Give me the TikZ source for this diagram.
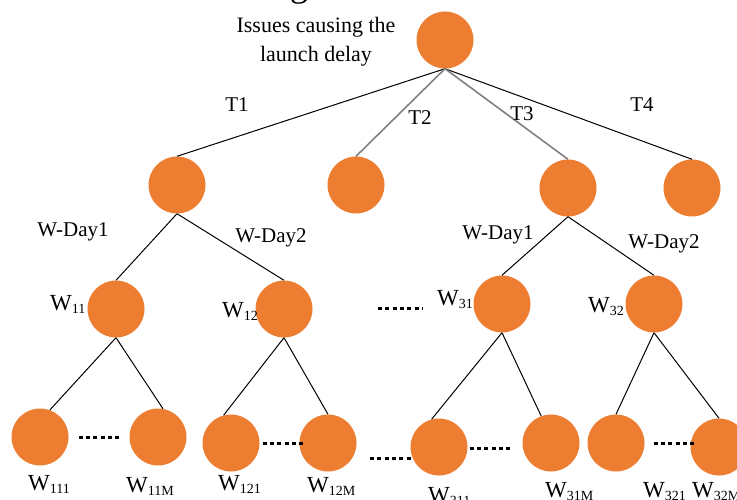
\documentclass[tikz,border=0pt]{standalone}
\usepackage{fontspec}
\setmainfont{Liberation Serif}
\definecolor{nodeorange}{HTML}{ED7D31}
\definecolor{edgegray}{HTML}{808080}
\newcommand{\wlab}[1]{W\raisebox{-3.5pt}{\fontsize{14}{14}\selectfont #1}}

\begin{document}
\begin{tikzpicture}[x=1pt, y=-1pt]
      \tikzstyle{vertex}=[circle, fill=nodeorange, inner sep=0pt, minimum size=57pt]
      \tikzstyle{lbl}=[font=\fontsize{21}{24}\selectfont, inner sep=0pt]
      \tikzstyle{wlbl}=[font=\fontsize{23}{26}\selectfont, inner sep=0pt, anchor=base west]
      \tikzstyle{more}=[line width=3pt, dash pattern=on 4pt off 3.3pt]
      \useasboundingbox (0,0) rectangle (737,500);

      \path (299, -3) node[anchor=base, inner sep=0pt, font=\fontsize{36}{36}\selectfont] (capg) {g};

      \path (445, 40) node[vertex] (root) {};
      \path (316, 42) node[align=center, inner sep=0pt, font=\fontsize{22}{29}\selectfont] (issues)
        {Issues causing the\\launch delay};

      \foreach \n/\x/\y in {t1/177/185, t2/356/185, t3/568/188, t4/692/188,
                            w11/116/309, w12/284/309, w31/502/304, w32/654/304,
                            w111/40/437, w11m/158/437, w121/231/443, w12m/328/443,
                            w311/439/447, w31m/551/443, w321/616/443, w32m/719/447}
      {
        \path (\x, \y) node[vertex] (\n) {};
      }

      \draw [line width=1pt]
        (root.south) -- (t1.north)
        (root.south) -- (t4.north);
      \draw [edgegray, line width=1.6pt]
        (root.south) -- (t2.north)
        (root.south) -- (t3.north);

      \draw [line width=1pt]
        (t1.south) -- (w11.north)
        (t1.south) -- (w12.north)
        (t3.south) -- (w31.north)
        (t3.south) -- (w32.north)
        (w11.south) -- (w111.70)
        (w11.south) -- (w11m.80)
        (w12.south) -- (w121.105)
        (w12.south) -- (w12m.north)
        (w31.south) -- (w311.105)
        (w31.south) -- (w31m.110)
        (w32.south) -- (w321.north)
        (w32.south) -- (w32m.north);

      \foreach \n/\x/\y in {T1/237/105, T2/420/118, T3/522/114, T4/642/105,
                            W-Day1/73/232, W-Day2/271/238, W-Day1/498/235, W-Day2/664/244}
      {
        \path (\x, \y) node[lbl] {\n};
      }

      \foreach \s/\x/\y in {11/50/310, 12/222/317, 31/437/305, 32/588/312,
                            111/28/490, 11M/126/492, 121/218/490, 12M/307/492,
                            311/428/502, 31M/545/497, 321/643/497, 32M/692/497}
      {
        \path (\x, \y) node[wlbl] (lab\s) {\wlab{\s}};
      }

      \coordinate (dotsl) at (378, 308);
      \coordinate (dotsr) at (422, 308);
      \coordinate (gapl) at (370, 458);
      \draw [more] (dotsl) -- (dotsr);
      \draw [more] (gapl) -- ([xshift=2pt, yshift=-11pt]w311.west);
      \draw [more] ([xshift=10pt]w111.east) -- ([xshift=-8pt]w11m.west);
      \draw [more] ([xshift=3pt]w121.east) -- ([xshift=5pt]w12m.west);
      \draw [more] ([xshift=2pt, yshift=-1pt]w311.east) -- ([xshift=-10pt, yshift=-5pt]w31m.west);
      \draw [more] ([xshift=9pt]w321.east) -- ([xshift=6pt, yshift=4pt]w32m.west);
\end{tikzpicture}
\end{document}
